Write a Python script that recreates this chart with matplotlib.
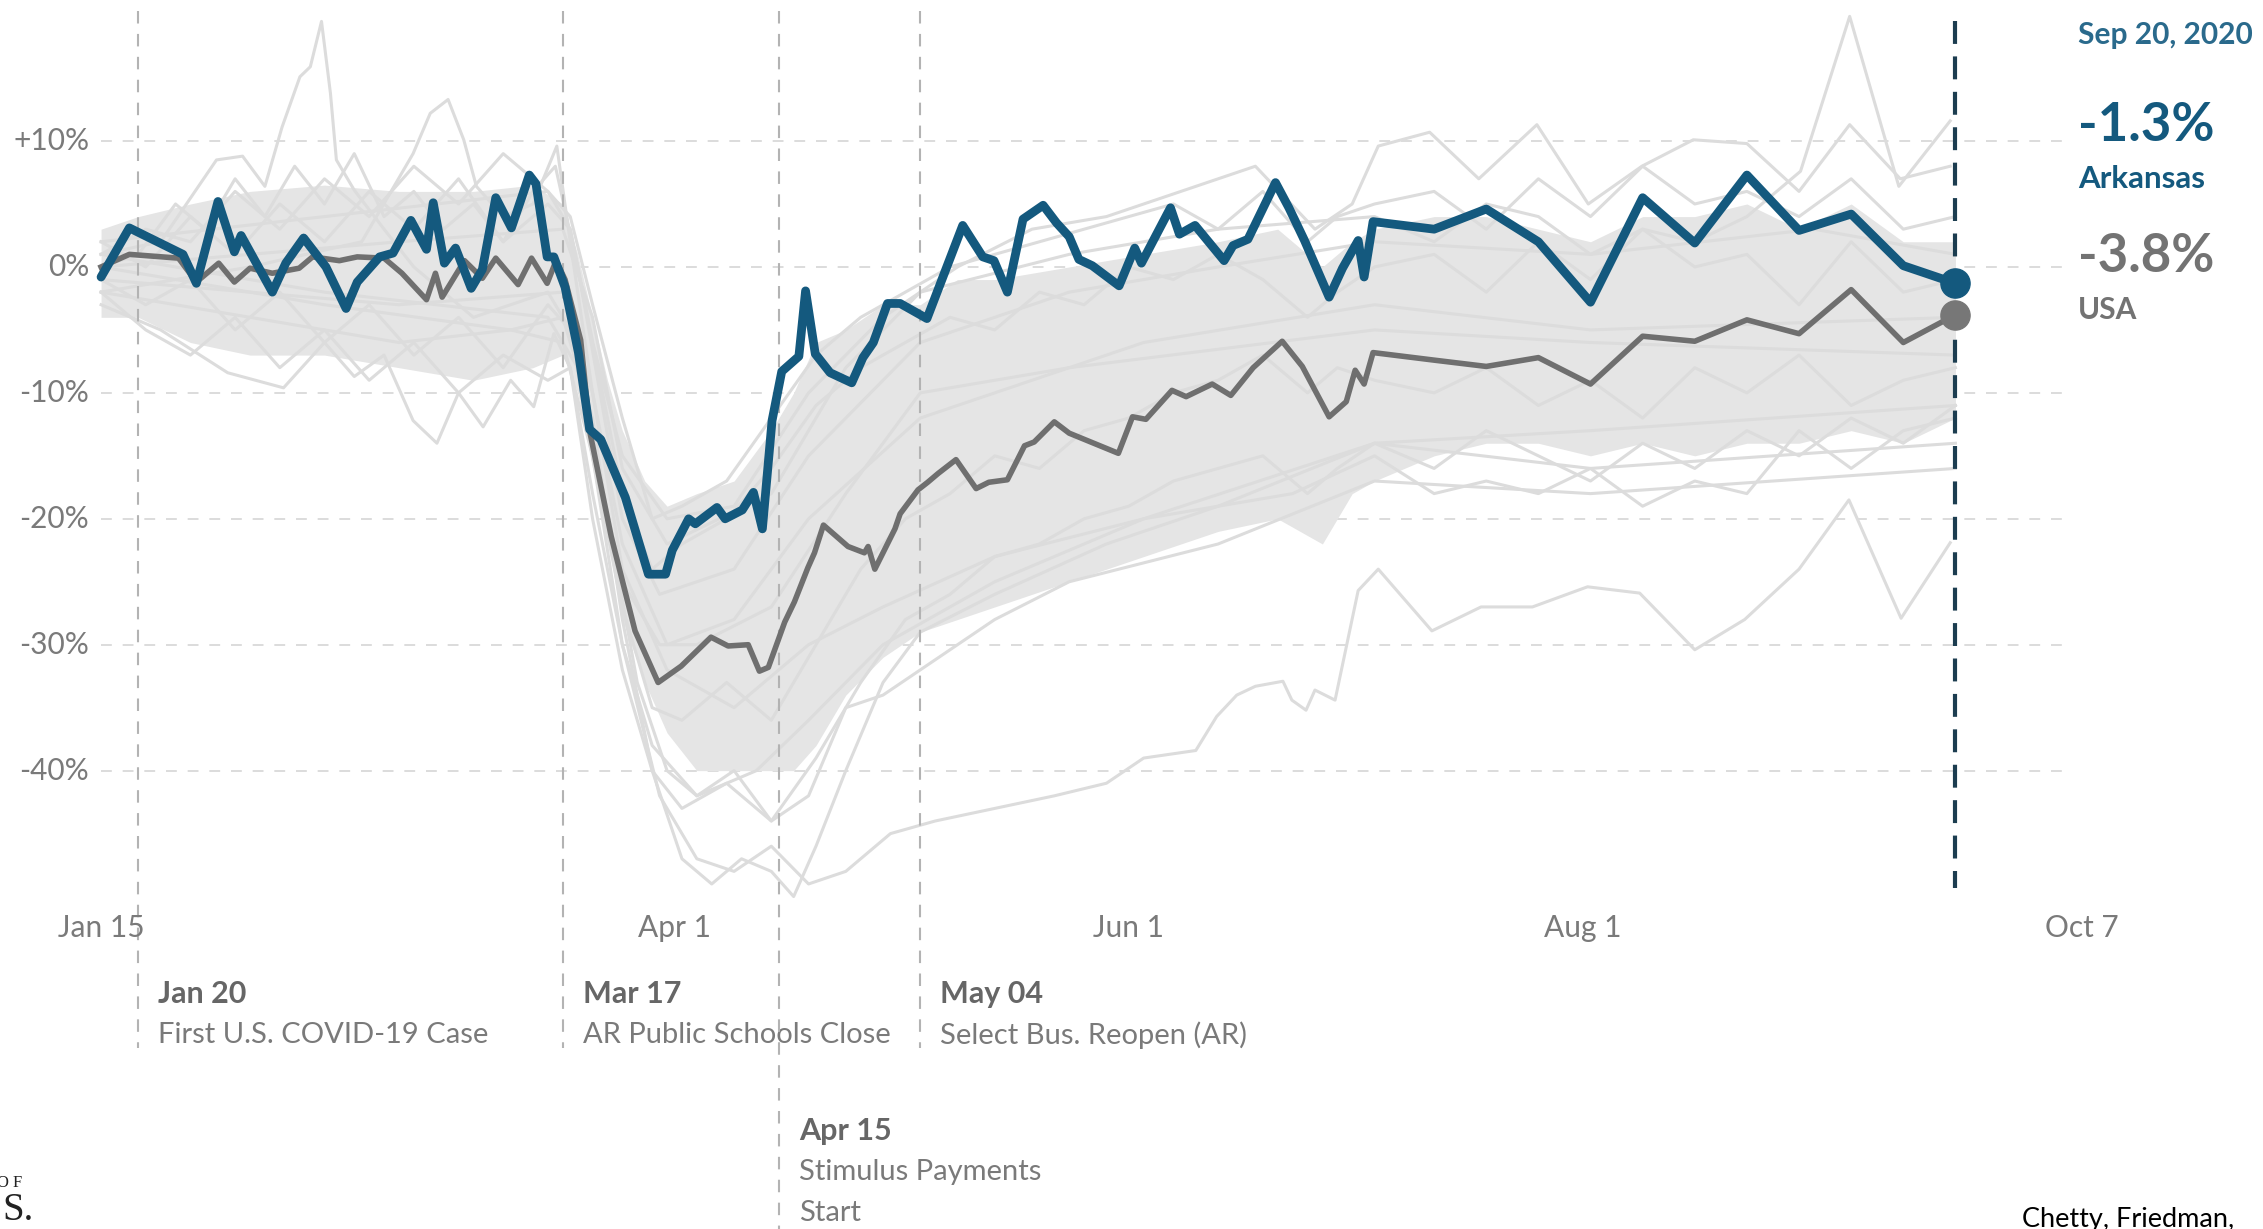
import numpy as np
import matplotlib.pyplot as plt

plt.rcParams['font.family'] = ['Lato', 'DejaVu Sans']

# days are counted from Jan 15, 2020; values are % change
ar_day = [0, 3.8, 11, 12.8, 15.7, 17.9, 18.8, 23, 24.8, 27.2, 30.2, 32.9, 34.4, 37.4, 39.2,
          41.6, 43.7, 44.6, 46.1, 47.6, 49.7, 51.2, 53, 55.1, 57.5, 58.4, 59.9, 60.8, 62.3,
          64.1, 65.6, 67.1, 70.4, 73.5, 75.8, 76.7, 78.9, 79.8, 82.7, 83.8, 86.1, 87.6, 88.8,
          90.1, 91.4, 93.7, 94.6, 95.9, 97.9, 100.8, 102.3, 103.7, 105.6, 107.3, 110.9, 115.7,
          118.4, 119.9, 121.7, 123.8, 126.5, 128.3, 130, 131.3, 133.1, 136.7, 138.8, 139.7,
          143.6, 144.8, 146.9, 150.8, 152, 154, 157.7, 159.5, 161.6, 164.9, 166.7, 168.8,
          169.6, 170.8, 179, 186, 193, 200, 207, 214, 221, 228, 235, 242, 249]
ar_val = [-0.8, 3.1, 1.0, -1.3, 5.2, 1.2, 2.5, -2.0, 0.3, 2.3, 0.0, -3.3, -1.2, 0.8, 1.1,
          3.7, 1.4, 5.1, 0.3, 1.5, -1.7, -0.2, 5.5, 3.1, 7.3, 6.6, 0.8, 0.8, -1.6,
          -6.8, -12.9, -13.7, -18.3, -24.4, -24.4, -22.5, -20.0, -20.4, -19.1, -20.0, -19.3, -17.9, -20.8,
          -12.2, -8.3, -7.1, -1.9, -6.9, -8.4, -9.2, -7.2, -6.0, -2.9, -2.9, -4.1, 3.3,
          0.8, 0.5, -2.0, 3.8, 4.9, 3.5, 2.4, 0.6, 0.1, -1.5, 1.5, 0.3,
          4.7, 2.6, 3.3, 0.5, 1.7, 2.2, 6.7, 4.7, 2.1, -2.4, -0.1, 2.1,
          -0.8, 3.6, 3.0, 4.6, 2.0, -2.8, 5.5, 1.9, 7.3, 2.9, 4.2, 0.1, -1.3]

us_day = [0, 3.8, 10.4, 12.8, 15.8, 17.9, 20, 23, 26.6, 28.4, 32, 34.4, 38, 40.4, 43.7,
          44.9, 45.8, 48.8, 51.2, 53, 56, 57.8, 59.9, 61.1, 62.3, 64.4, 65.7, 68.5, 71.7,
          74.8, 77.9, 81.9, 84.2, 86.9, 88.4, 89.6, 91.8, 93.1, 94.9, 95.8, 97, 100.3, 102.5,
          103, 103.9, 106.6, 107.3, 109.7, 111, 112.4, 114.8, 117.5, 119.2, 121.7, 124, 125.3,
          128, 130, 136.6, 138.5, 140.3, 143.8, 145.7, 149.2, 151.7, 154.7, 158.6, 161.3,
          164.9, 167.2, 168.4, 169.6, 170.8, 179, 186, 193, 200, 207, 214, 221, 228, 235, 242, 249]
us_val = [0.0, 1.0, 0.7, -1.2, 0.3, -1.2, -0.1, -0.5, -0.1, 0.8, 0.5, 0.8, 0.7, -0.5, -2.6,
          -0.5, -2.4, 0.5, -0.9, 0.7, -1.4, 0.7, -1.3, 0.5, -1.0, -5.8, -13.3, -21.4, -28.9,
          -33.0, -31.7, -29.4, -30.1, -30.0, -32.1, -31.8, -28.2, -26.6, -23.9, -22.7, -20.5, -22.2, -22.7,
          -22.2, -24.0, -20.8, -19.6, -17.7, -17.1, -16.4, -15.3, -17.6, -17.1, -16.9, -14.2, -13.9,
          -12.3, -13.2, -14.8, -11.9, -12.1, -9.8, -10.3, -9.3, -10.2, -8.0, -5.9, -7.9,
          -11.9, -10.7, -8.2, -9.3, -6.8, -7.4, -7.9, -7.2, -9.3, -5.5, -5.9, -4.2, -5.3, -1.8, -6.0, -3.8]

# spread of the other states (dense grey mass)
band_day = [0, 5, 12, 20, 30, 40, 50, 58, 62, 64, 66, 68, 70, 73, 76, 80, 85, 90, 93, 96, 100,
            105, 110, 115, 120, 130, 140, 150, 158, 164, 168, 171, 179, 186, 193, 200, 207,
            214, 221, 228, 235, 242, 249]
band_hi = [3, 4, 5, 6, 6.5, 6, 6, 6.5, 5, 1, -4, -9, -13, -17, -19, -18, -17, -13, -10, -6, -5,
           -3, -3, -1, -1, 0, 1, 2, 3, 0, 2, 3, 4, 4, 3, 2, 4, 4, 5, 3, 5, 2, 2]
band_lo = [-4, -4, -6, -7, -7, -8, -9, -8, -7, -10, -16, -22, -28, -33, -37, -40, -40, -40, -40,
           -38, -34, -31, -29, -28, -27, -25, -23, -21, -20, -22, -18, -17, -15, -14, -14, -15,
           -14, -15, -14, -14, -13, -14, -12]

# individual state lines that stand out of the mass
spike_a_day = [0, 8, 15.5, 19, 22, 24.3, 26.7, 28.1, 29.6, 30.8, 31.6, 34, 38, 42, 46, 50, 55,
               60, 63, 66, 70, 75, 80, 90, 100, 110, 130, 171, 200, 249]
spike_a_val = [1, 2, 8.5, 8.8, 6.4, 11.1, 15.1, 15.9, 19.5, 13.8, 8.5, 6.1, 3, 0, -2, -4, -3,
               -2, -5, -14, -25, -30, -30, -27, -18, -10, -8, -5, -6, -7]
spike_b_day = [0, 20, 35, 41.9, 44.2, 46.6, 48.7, 50.4, 54, 58, 61.2, 63, 66, 70, 76, 85, 95,
               110, 140, 171, 200, 249]
spike_b_val = [-2, 0, 2, 9.0, 12.2, 13.3, 10.1, 6.4, 4, 5, 9.6, 2, -10, -22, -30, -28, -20,
               -12, -6, -3, -5, -4]
dip_a_day = [0, 8, 17, 24.5, 30, 34, 38, 41.9, 45.1, 48, 51.3, 55, 58.1, 60.8, 63, 66, 70, 74,
             80, 88, 95, 105, 120, 140, 171, 200, 249]
dip_a_val = [-3, -5, -8.4, -9.6, -6, -8.7, -7, -12.2, -14, -10, -12.7, -9, -11.1, -5.3, -8, -18,
             -30, -38, -42, -40, -36, -30, -25, -20, -14, -13, -11]
mid_e_day = [0, 5, 10, 14, 18, 22, 26, 30, 34, 38, 42, 46, 50, 54, 58, 61, 64, 67, 70, 75, 85,
             95, 110, 130, 150, 171, 200, 230, 249]
mid_e_val = [0, 1, 5, 3, 7, 4, 8, 5, 9, 4, 6, 3, 5, 2, 6, 8, 0, -10, -20, -26, -24, -15, -6,
             -2, 0, 2, 1, 3, 1]
hawaii_day = [0, 20, 40, 55, 62, 66, 70, 75, 80, 85, 90, 95, 100, 106, 112, 120, 128, 135, 140,
              147, 149.8, 152.5, 155, 158.7, 159.9, 161.8, 163, 165.7, 168.8, 171.5, 178.7,
              185.3, 192.2, 199.6, 206.6, 214, 220.7, 228, 234.7, 241.7, 248.3]
hawaii_val = [-2, -4, -6, -5, -6, -15, -30, -42, -47, -48, -46, -49, -48, -45, -44, -43, -42, -41,
              -39, -38.4, -35.7, -34, -33.3, -32.9, -34.4, -35.2, -33.6, -34.4, -25.7, -24, -28.9,
              -27, -27, -25.4, -25.9, -30.4, -28, -24, -18.5, -27.9, -21.9]
deep_b_day = [0, 30, 55, 62, 66, 70, 74, 78, 82, 86, 90, 93, 96, 100, 105, 110, 120, 135, 150,
              171, 200, 249]
deep_b_val = [0, -3, -5, -4, -12, -28, -40, -47, -49, -47, -48, -50, -46, -40, -33, -29, -26,
              -22, -19, -14, -16, -14]
deep_c_day = [0, 30, 60, 64, 68, 72, 76, 80, 85, 90, 95, 100, 105, 110, 120, 130, 150, 171, 200,
              249]
deep_c_val = [1, -2, -4, -8, -20, -33, -40, -42, -40, -44, -42, -35, -34, -32, -28, -25, -22,
              -17, -18, -16]
high_c_day = [0, 30, 60, 63, 66, 70, 76, 85, 95, 105, 115, 125, 135, 145, 155, 163, 168, 171.5,
              178.4, 185, 192.8, 199.7, 206.9, 213.8, 221, 228, 234.8, 241.6, 248.3]
high_c_val = [2, 4, 6, 3, -6, -15, -20, -19, -10, -4, 0, 3, 4, 6, 8, 3, 5, 9.6, 10.7, 7, 11.3,
              5, 8, 10.1, 9.8, 6, 11.3, 7, 8]
peak_d_day = [0, 40, 62, 66, 70, 76, 90, 100, 110, 130, 150, 171, 179, 186, 193, 200, 207, 214,
              221, 228.2, 234.8, 241.4, 248.3]
peak_d_val = [0, 2, 3, -4, -16, -22, -18, -8, -2, 1, 3, 4, 2, 5, 4, 1, 3, 2, 4, 7.6, 19.9, 6.4,
              11.6]
low_c_day = [0, 40, 62, 66, 70, 76, 85, 95, 105, 120, 140, 160, 171, 179, 186, 193, 200, 207,
             214, 221, 228, 235, 242, 249]
low_c_val = [-1, -3, -2, -10, -24, -32, -35, -30, -27, -23, -20, -18, -15, -18, -17, -18, -16,
             -19, -17, -18, -13, -16, -13, -12]

# a few more state lines running inside the grey mass
wig_day = [0, 6, 12, 18, 24, 30, 36, 42, 48, 54, 60, 63, 66, 70, 74, 78, 84, 90, 96, 102, 108,
           114, 120, 126, 132, 138, 144, 150, 156, 162, 166, 171, 179, 186, 193, 200, 207, 214,
           221, 228, 235, 242, 249]
wig_f_val = [-1, -3, -1, -5, -2, -6, -3, -7, -4, -8, -3, -5, -15, -27, -35, -36, -33, -36, -30,
             -24, -20, -18, -15, -16, -13, -12, -10, -9, -7, -10, -8, -9, -10, -8, -11, -9, -12,
             -8, -10, -7, -11, -9, -8]
wig_g_val = [2, 0, 4, 1, 5, 2, 6, 3, 7, 2, 5, 3, -6, -18, -24, -22, -20, -16, -11, -8, -6, -4,
             -5, -2, -3, 0, -1, 1, -1, -4, -2, 0, 1, -2, 2, -1, 3, 0, 1, -3, 2, -2, -1]
wig_h_val = [-2, -5, -7, -4, -8, -5, -9, -6, -10, -7, -9, -8, -20, -32, -40, -43, -41, -44, -39,
             -33, -28, -26, -23, -22, -20, -19, -17, -16, -15, -18, -16, -14, -16, -13, -15, -17,
             -14, -16, -13, -15, -12, -14, -11]
wig_i_val = [1, 3, 2, 6, 3, 7, 4, 8, 5, 9, 6, 4, -3, -12, -20, -19, -17, -12, -7, -4, -2, 0, 1,
             2, 3, 4, 5, 3, 6, 2, 4, 5, 6, 3, 7, 4, 8, 5, 6, 4, 7, 3, 4]

ytick_val = [10, 0, -10, -20, -30, -40]
ytick_lab = ['+10%', '0%', '-10%', '-20%', '-30%', '-40%']
xtick_day = [0, 77, 138, 199, 266]
xtick_lab = ['Jan 15', 'Apr 1', 'Jun 1', 'Aug 1', 'Oct 7']

event_day = [5, 62, 91, 110]
event_date = ['Jan 20', 'Mar 17', 'Apr 15', 'May 04']
event_text = ['First U.S. COVID-19 Case', 'AR Public Schools Close', 'Stimulus Payments\nStart',
              'Select Bus. Reopen (AR)']

last_day = 249
ar_last = -1.3
us_last = -3.8

BLUE = '#14597e'
USGREY = '#6f6f6f'
TXT = '#7a7a7a'

fig = plt.figure(figsize=(22.63, 12.29), dpi=100)
ax = fig.add_axes([0, 0, 1, 1])
ax.set_xlim(-13.57, 290.3)
ax.set_ylim(-76.4, 21.2)
ax.axis('off')

# grid
for v in ytick_val:
    ax.plot([0, 264.5], [v, v], color='#d9d9d9', lw=1.3, ls=(0, (6, 6)), zorder=0.5)

# other states
ax.fill_between(band_day, band_lo, band_hi, color='#e5e5e5', lw=0, zorder=1)
others = [(spike_a_day, spike_a_val), (spike_b_day, spike_b_val), (dip_a_day, dip_a_val),
          (mid_e_day, mid_e_val), (hawaii_day, hawaii_val), (deep_b_day, deep_b_val),
          (deep_c_day, deep_c_val), (high_c_day, high_c_val), (peak_d_day, peak_d_val),
          (low_c_day, low_c_val), (wig_day, wig_f_val), (wig_day, wig_g_val),
          (wig_day, wig_h_val), (wig_day, wig_i_val)]
for d, v in others:
    ax.plot(d, v, color='#dcdcdc', lw=2.2, zorder=2)

# event markers
for i, d in enumerate(event_day):
    bottom = -76.4 if event_date[i] == 'Apr 15' else -62
    ax.plot([d, d], [20.3, bottom], color='#b3b3b3', lw=1.5, ls=(0, (6, 5)), zorder=3)
    y0 = -68.6 if event_date[i] == 'Apr 15' else -57.7
    ax.text(d + 2.7, y0, event_date[i], color='#666666', fontsize=22, fontweight='bold',
            ha='left', va='center')
    for j, line in enumerate(event_text[i].split('\n')):
        ax.text(d + 2.7, y0 - 3.3 - 3.25 * j, line, color=TXT, fontsize=21, ha='left', va='center')

# axis labels
for v, lab in zip(ytick_val, ytick_lab):
    ax.text(-1.6, v, lab, color=TXT, fontsize=21.5, ha='right', va='center')
for d, lab in zip(xtick_day, xtick_lab):
    ax.text(d, -52.5, lab, color=TXT, fontsize=21.5, ha='center', va='center')

# USA and Arkansas
ax.plot(us_day, us_val, color=USGREY, lw=4, zorder=4, solid_joinstyle='round')
ax.plot(ar_day, ar_val, color=BLUE, lw=6.3, zorder=5, solid_joinstyle='round',
        solid_capstyle='round')

# latest date
ax.plot([last_day, last_day], [19.5, -49.3], color='#1c3d50', lw=3, ls=(0, (5.5, 3)), zorder=6)
ax.plot(last_day, ar_last, 'o', color=BLUE, ms=21, zorder=7)
ax.plot(last_day, us_last, 'o', color='#777777', ms=21, zorder=7)

ax.text(265.5, 18.4, 'Sep 20, 2020', color='#2a6a8c', fontsize=21.5, fontweight='bold',
        ha='left', va='center')
ax.text(265.5, 11.2, f'{ar_last:.1f}%', color=BLUE, fontsize=38, fontweight='bold',
        ha='left', va='center')
ax.text(265.5, 7.0, 'Arkansas', color=BLUE, fontsize=22.5, fontweight='bold', ha='left', va='center')
ax.text(265.5, 0.8, f'{us_last:.1f}%', color='#737373', fontsize=38, fontweight='bold',
        ha='left', va='center')
ax.text(265.5, -3.4, 'USA', color='#737373', fontsize=21.5, fontweight='bold', ha='left', va='center')

# slide leftovers
fig.text(22 / 2263, 1 - 1183 / 1229, 'O F', family='Liberation Serif', fontsize=12,
         color='#222222', ha='right', va='center')
fig.text(2 / 2263, 1 - 1211 / 1229, 'S.', family='Liberation Serif', fontsize=28,
         color='#222222', ha='left', va='center')
fig.text(2022 / 2263, 1 - 1220 / 1229, 'Chetty, Friedman,', fontsize=19.5, color='black',
         ha='left', va='center')

fig.savefig('out.png', dpi=100)
